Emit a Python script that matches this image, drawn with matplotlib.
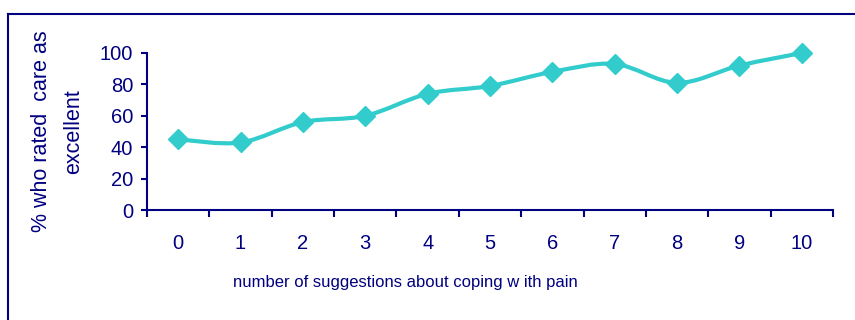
import numpy as np
import matplotlib.pyplot as plt
from matplotlib.path import Path
from matplotlib.patches import PathPatch
from matplotlib.lines import Line2D

## Donnees
categories = ["0", "1", "2", "3", "4", "5", "6", "7", "8", "9", "10"]
pct_excellent = [45, 43, 56, 60, 74, 79, 88, 93, 81, 92, 100]
yticks = [0, 20, 40, 60, 80, 100]

navy = "#000080"
teal = "#33CCCC"
plt.rcParams['font.family'] = ['Liberation Sans', 'DejaVu Sans']

fig = plt.figure(figsize=(8.55, 3.2), dpi=100)
ax = fig.add_axes([147/855, 1-210/320, 686/855, 157/320])

x = np.arange(len(pct_excellent))
y = np.array(pct_excellent, dtype=float)

## Courbe lissee (type Excel) : Bezier cubique passant par les points
xe = np.concatenate(([x[0]], x, [x[-1]]))
ye = np.concatenate(([y[0]], y, [y[-1]]))
verts = [(x[0], y[0])]
codes = [Path.MOVETO]
for i in range(1, len(xe) - 2):
    c1 = (xe[i] + (xe[i+1] - xe[i-1]) / 6, ye[i] + (ye[i+1] - ye[i-1]) / 6)
    c2 = (xe[i+1] - (xe[i+2] - xe[i]) / 6, ye[i+1] - (ye[i+2] - ye[i]) / 6)
    verts += [c1, c2, (xe[i+1], ye[i+1])]
    codes += [Path.CURVE4] * 3
ax.add_patch(PathPatch(Path(verts, codes), facecolor="none", edgecolor=teal,
                       lw=3, capstyle="round", joinstyle="round", clip_on=False))
ax.plot(x, y, linestyle="none", marker="D", markersize=10.5, color=teal, clip_on=False)

ax.set_xlim(-0.5, len(categories) - 0.5)
ax.set_ylim(0, 100)
ax.set_xticks(x)
ax.set_xticklabels(categories)
ax.set_xticks(np.arange(-0.5, len(categories)), minor=True)
ax.set_yticks(yticks)

for s in ["top", "right"]:
    ax.spines[s].set_visible(False)
for s in ["left", "bottom"]:
    ax.spines[s].set_color(navy)
    ax.spines[s].set_linewidth(1.5)

ax.tick_params(axis="x", which="major", length=0, pad=17, labelsize=14.5, labelcolor=navy)
ax.tick_params(axis="x", which="minor", length=5, width=1.5, color=navy, direction="out")
ax.tick_params(axis="y", length=4, width=1.5, color=navy, pad=6, labelsize=14.5, labelcolor=navy)

ax.set_xlabel("number of suggestions about coping w ith pain", fontsize=12, color=navy)
ax.xaxis.set_label_coords((405 - 147) / 686, -(283 - 210) / 157)
ax.xaxis.label.set_verticalalignment("center")
ax.set_ylabel("% who rated  care as\nexcellent", fontsize=15.5, color=navy,
              linespacing=1.7)
ax.yaxis.set_label_coords(-(147 - 58) / 686, 0.5)
ax.yaxis.label.set_verticalalignment("center")

## Cadre de la figure
fig.add_artist(Line2D([8/855, 1], [1-14/320, 1-14/320], color=navy, lw=1.5))
fig.add_artist(Line2D([8/855, 8/855], [0, 1-14/320], color=navy, lw=1.5))

fig.savefig("out.png", dpi=100)
